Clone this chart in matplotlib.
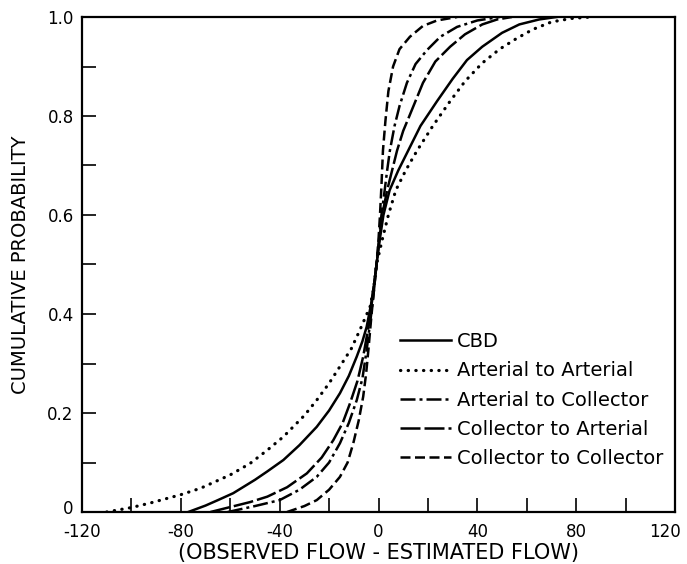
import matplotlib
matplotlib.use("Agg")
import matplotlib.pyplot as plt
from matplotlib.ticker import MultipleLocator, FixedLocator
from matplotlib.transforms import ScaledTranslation

plt.rcParams["font.family"] = ["DejaVu Sans"]
plt.rcParams["axes.unicode_minus"] = False

# Cumulative distributions of (observed - estimated) flow, by facility class
cbd_x = [-77, -70, -65, -58.8, -50, -45, -38.5, -32, -25, -20, -15.6, -12, -8.8, -6.5,
         -4.8, -3, -1.5, -0.8, 0.5, 2, 4.5, 8, 12, 17, 23.7, 30, 35.8, 42, 50, 57, 65, 72]
cbd_y = [0.0, 0.013, 0.024, 0.038, 0.065, 0.082, 0.105, 0.135, 0.172, 0.205, 0.24, 0.275,
         0.314, 0.345, 0.374, 0.42, 0.47, 0.5, 0.55, 0.6, 0.65, 0.69, 0.73, 0.78, 0.83,
         0.875, 0.913, 0.94, 0.968, 0.985, 0.995, 1.0]

art_art_x = [-110, -100, -92.5, -80, -72, -60, -52, -45, -38.5, -30, -25, -20, -15.6, -11,
             -7.5, -3.4, -2, -0.8, 1.5, 4, 7, 11, 15.6, 22, 29, 35, 42, 49, 56, 62.5, 70, 78, 86]
art_art_y = [0.0, 0.009, 0.018, 0.035, 0.048, 0.075, 0.098, 0.125, 0.152, 0.195, 0.226,
             0.26, 0.294, 0.33, 0.368, 0.415, 0.45, 0.5, 0.55, 0.6, 0.65, 0.69, 0.73, 0.78,
             0.83, 0.87, 0.907, 0.935, 0.957, 0.975, 0.99, 0.997, 1.0]

art_col_x = [-61, -50, -40, -32, -25, -20, -15.6, -12, -8.8, -6.5, -4.8, -3.2, -2, -0.8,
             0.2, 1.2, 2.5, 3.5, 4.6, 6.5, 8.5, 11.5, 15, 19.6, 25, 31.8, 40, 49]
art_col_y = [0.0, 0.012, 0.024, 0.045, 0.071, 0.1, 0.139, 0.18, 0.226, 0.27, 0.327, 0.39,
             0.44, 0.5, 0.55, 0.6, 0.65, 0.69, 0.73, 0.78, 0.82, 0.867, 0.905, 0.933, 0.96,
             0.98, 0.993, 1.0]

col_art_x = [-68, -60, -52, -45, -37, -29, -23, -18.3, -14.5, -11.5, -8.5, -6.2, -4.2, -2.5,
             -0.8, 0.3, 1.5, 3.5, 5.5, 7.5, 10, 12.5, 18, 23, 29, 35, 42, 48, 54]
col_art_y = [0.0, 0.01, 0.02, 0.031, 0.05, 0.078, 0.11, 0.145, 0.18, 0.22, 0.265, 0.314,
             0.37, 0.43, 0.5, 0.55, 0.6, 0.65, 0.69, 0.73, 0.77, 0.8, 0.867, 0.91, 0.94,
             0.965, 0.985, 0.995, 1.0]

col_col_x = [-37, -30, -25, -20, -15.6, -12.5, -10.2, -8, -6.2, -5, -4.1, -2.8, -1.8, -0.8,
             0, 0.6, 1.2, 1.8, 2.8, 4, 5.9, 8.5, 12.7, 18, 23.7, 31.8]
col_col_y = [0.0, 0.012, 0.024, 0.045, 0.071, 0.1, 0.139, 0.185, 0.233, 0.28, 0.327, 0.4,
             0.45, 0.5, 0.55, 0.6, 0.66, 0.73, 0.79, 0.85, 0.9, 0.935, 0.96, 0.982, 0.993, 1.0]

series_labels = ["CBD", "Arterial to Arterial", "Arterial to Collector",
                 "Collector to Arterial", "Collector to Collector"]

x_ticks = [-120, -80, -40, 0, 40, 80, 120]
y_ticks = [0, 0.2, 0.4, 0.6, 0.8, 1.0]
y_tick_labels = ["0", "0.2", "0.4", "0.6", "0.8", "1.0"]

fig = plt.figure(figsize=(6.87, 5.64), dpi=100)
ax = fig.add_axes([82 / 687, 1 - 512 / 564, 593 / 687, 495 / 564])

lw = 1.8
ax.plot(cbd_x, cbd_y, color="black", lw=lw, linestyle="-", label=series_labels[0])
ax.plot(art_art_x, art_art_y, color="black", lw=2.3, linestyle=(0, (0.1, 2.3)),
        dash_capstyle="round", label=series_labels[1])
ax.plot(art_col_x, art_col_y, color="black", lw=lw, linestyle=(0, (6, 1.6, 1.2, 1.6)),
        label=series_labels[2])
ax.plot(col_art_x, col_art_y, color="black", lw=lw, linestyle=(0, (8, 1.6)),
        label=series_labels[3])
ax.plot(col_col_x, col_col_y, color="black", lw=lw, linestyle=(0, (4, 1.8)),
        label=series_labels[4])

ax.set_xlim(-120, 120)
ax.set_ylim(0, 1.0)

ax.xaxis.set_major_locator(FixedLocator(x_ticks))
ax.xaxis.set_minor_locator(MultipleLocator(20))
ax.yaxis.set_major_locator(FixedLocator(y_ticks))
ax.yaxis.set_minor_locator(MultipleLocator(0.1))
ax.set_xticklabels([str(v) for v in x_ticks])
ax.set_yticklabels(y_tick_labels)

ax.tick_params(axis="both", which="both", direction="in", length=10, width=1.2,
               top=False, right=False, labelsize=12)
ax.tick_params(axis="x", which="major", pad=8)
ax.tick_params(axis="y", which="major", pad=6)

# keep the right-most x tick label inside the canvas
last = ax.get_xticklabels()[-1]
last.set_transform(last.get_transform() + ScaledTranslation(-10 / 100, 0, fig.dpi_scale_trans))
# lift the y-axis "0" clear of the x tick labels
first = ax.get_yticklabels()[0]
first.set_transform(first.get_transform() + ScaledTranslation(0, 5 / 100, fig.dpi_scale_trans))

for sp in ax.spines.values():
    sp.set_linewidth(1.6)

ax.set_ylabel("CUMULATIVE PROBABILITY", fontsize=14)
ax.yaxis.set_label_coords(-0.088, 0.5)
ax.set_xlabel("(OBSERVED FLOW - ESTIMATED FLOW)", fontsize=15)
ax.xaxis.set_label_coords(0.5, -0.062)

leg = ax.legend(loc="upper left", bbox_to_anchor=(400 / 687, 1 - 332 / 564),
                bbox_transform=fig.transFigure, frameon=False, fontsize=14,
                handlelength=2.6, handletextpad=0.35, labelspacing=0.53,
                borderpad=0, borderaxespad=0)

fig.savefig("out.png", dpi=100)
